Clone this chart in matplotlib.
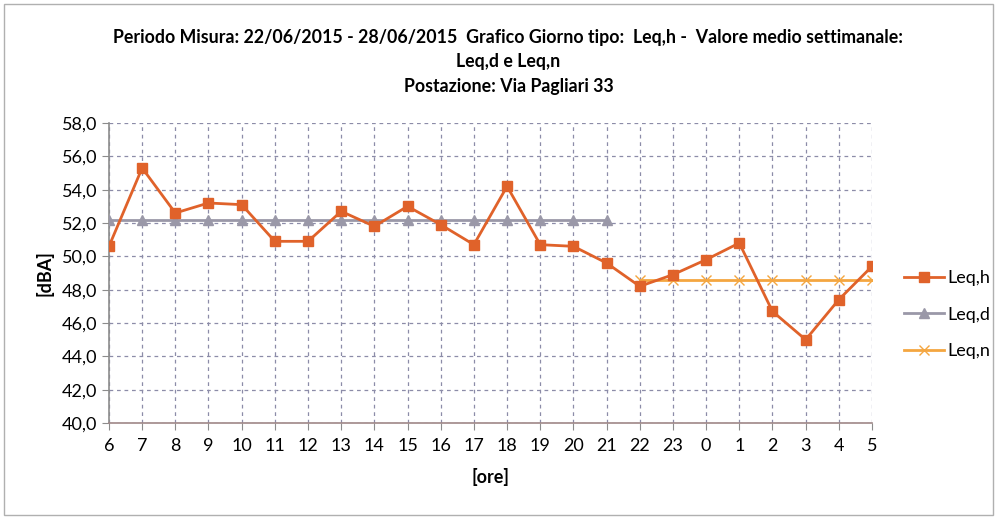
import matplotlib
matplotlib.use("Agg")
import matplotlib.pyplot as plt
from matplotlib.ticker import FuncFormatter, MultipleLocator

plt.rcParams['font.family'] = ['Lato', 'DejaVu Sans']

# hours of the typical day
ore = ['6', '7', '8', '9', '10', '11', '12', '13', '14', '15', '16', '17',
       '18', '19', '20', '21', '22', '23', '0', '1', '2', '3', '4', '5']
leq_h = [50.6, 55.3, 52.6, 53.2, 53.1, 50.9, 50.9, 52.7, 51.8, 53.0, 51.9, 50.7,
         54.2, 50.7, 50.6, 49.6, 48.2, 48.9, 49.8, 50.8, 46.7, 45.0, 47.4, 49.4]
leq_d = [52.2] * 16          # day period 6-21
leq_n = [48.6] * 8           # night period 22-5

x = list(range(len(ore)))

fig = plt.figure(figsize=(9.97, 5.2), dpi=100)
ax = fig.add_axes([0.1093, 0.1865, 0.7653, 0.577])

ax.plot(x, leq_h, color='#E0622A', lw=2, marker='s', ms=7, label='Leq,h', zorder=4)
ax.plot(x[:16], leq_d, color='#9A98A8', lw=2, marker='^', ms=7, label='Leq,d', zorder=3)
ax.plot(x[16:], leq_n, color='#F4A640', lw=2, marker='x', ms=7, mew=1, label='Leq,n', zorder=3)

ax.set_xlim(0, 23)
ax.set_ylim(40, 58)
ax.yaxis.set_major_locator(MultipleLocator(2))
ax.yaxis.set_major_formatter(FuncFormatter(lambda v, p: f'{v:.1f}'.replace('.', ',')))
ax.set_xticks(x)
ax.set_xticklabels(ore)

ax.grid(True, color='#8C8CA8', linestyle=(0, (3, 3)), lw=0.9)
ax.set_axisbelow(True)
for s in ['top', 'right']:
    ax.spines[s].set_visible(False)
ax.spines['left'].set_color('#8C8C8C')
ax.spines['bottom'].set_color('#A08888')
ax.spines['left'].set_linewidth(1.2)
ax.spines['bottom'].set_linewidth(1.2)
ax.tick_params(axis='x', length=5, color='#8C8C8C', labelsize=13, pad=6)
ax.tick_params(axis='y', length=5, color='#8C8C8C', labelsize=13)

ax.set_ylabel('[dBA]', fontsize=13, fontweight='bold', labelpad=6)
ax.set_xlabel('[ore]', fontsize=13, fontweight='bold', labelpad=10)

fig.text(0.51, 0.928, 'Periodo Misura: 22/06/2015 - 28/06/2015  Grafico Giorno tipo:  Leq,h -  Valore medio settimanale:',
         ha='center', va='center', fontsize=12.8, fontweight='bold')
fig.text(0.51, 0.882, 'Leq,d e Leq,n', ha='center', va='center', fontsize=12.8, fontweight='bold')
fig.text(0.51, 0.833, 'Postazione: Via Pagliari 33', ha='center', va='center', fontsize=12.8, fontweight='bold')

fig.legend(loc='center left', bbox_to_anchor=(0.898, 0.395), frameon=False, borderpad=0,
           fontsize=13, handlelength=2.2, labelspacing=1.15, handletextpad=0.2)

fig.add_artist(plt.Rectangle((0.004, 0.01), 0.992, 0.982, transform=fig.transFigure,
                             fill=False, edgecolor='#B0B0B0', lw=1))

fig.savefig('out.png', dpi=100)
